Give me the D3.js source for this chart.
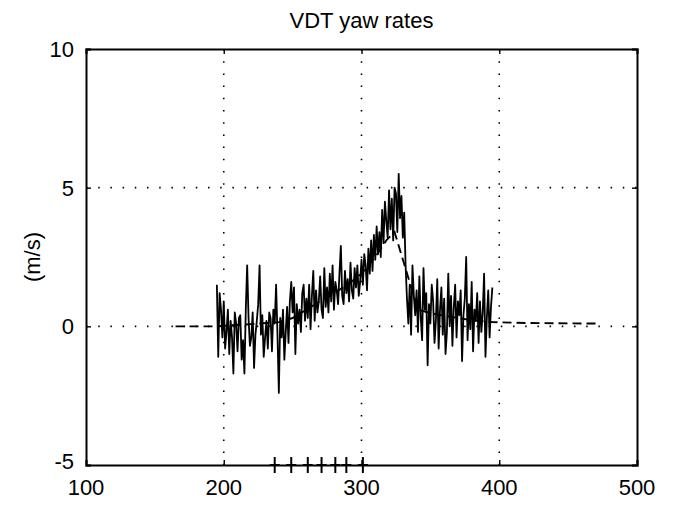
<!DOCTYPE html>
<html>
<head>
<meta charset="utf-8">
<script src="https://cdn.jsdelivr.net/npm/d3@7"></script>
<style>
  body { margin: 0; background: #fff; }
  text { font-family: "Liberation Sans", Arial, Helvetica, sans-serif; fill: #000; }
</style>
</head>
<body>
<svg id="chart" width="677" height="508"></svg>
<script>
// Axis ticks
const xTicks = [100, 200, 300, 400, 500];
const yTicks = [-5, 0, 5, 10];

// Measured yaw rate, one sample per unit starting at x = 195
const rateStart = 195;
const yawRate = [
  1.5, -1.1, 1.2, 0.6, -0.4, 0.9, -0.8, -0.2, 0.6, -1.0,
  0.2, -0.4, -1.7, 0.5, 0.1, -0.9, 0.3, 0.4, -1.2, -0.5,
  -1.7, 0.6, 2.2, 0.3, -0.7, -0.4, 0.5, -1.5, -0.3, 0.2,
  0.8, 2.2, -0.3, 0.4, -1.1, -0.4, 0.2, -0.8, 0.5, 0.3,
  -0.9, 0.6, 0.1, 1.5, -0.3, -2.4, 0.3, -0.4, 0.6, -1.2,
  -0.2, 0.7, -0.6, 0.9, 1.6, 0.5, 1.4, -1.0, 0.8, 0.1,
  0.6, -0.2, 1.2, 1.5, 0.2, 1.0, 0.3, 1.5, -0.1, 1.1,
  2.0, 0.2, 1.3, 0.5, 0.9, 1.8, 0.6, 0.3, 2.1, 0.7,
  1.4, 0.5, 1.9, 0.9, 2.2, 0.6, 1.6, 1.3, 0.8, 1.9,
  2.9, 1.1, 0.8, 2.0, 1.2, 1.7, 0.9, 2.3, 1.3, 1.0,
  2.1, 1.4, 2.2, 1.1, 1.6, 2.4, 1.5, 2.6, 2.2, 1.3,
  2.8, 1.9, 3.1, 2.0, 3.3, 2.4, 3.6, 2.6, 3.4, 2.5,
  4.2, 3.0, 4.5, 3.8, 3.2, 4.9, 3.5, 4.6, 3.1, 5.0,
  4.8, 3.4, 5.5, 3.9, 4.7, 3.2, 4.1, 2.2, 1.0, 0.1,
  1.5, -0.3, 2.2, 1.1, 0.4, 1.3, -0.2, 1.8, 0.3, -0.5,
  2.1, 0.6, 1.2, -1.4, 0.8, 0.1, 1.5, 0.9, -0.6, 0.2,
  1.7, -0.8, 0.6, 1.4, -0.3, 1.0, -1.0, -0.2, 1.9, 0.0,
  1.1, -0.7, 0.7, 1.5, -0.4, 0.9, 0.4, 1.3, -1.25, 0.4,
  1.0, 2.5, -0.5, 0.8, -0.1, 1.6, -0.9, 0.6, 0.2, 1.2,
  -0.6, 0.9, -0.2, 0.5, 1.9, -1.1, 0.3, 1.3, -0.4, 0.7,
  1.4
];

// Smoothed estimate (dashed)
const trendX = [165, 195, 200, 220, 240, 250, 260, 270, 280, 290, 300, 310, 318, 324, 334, 341, 350, 360, 380, 395, 420, 470];
const trendY = [0, 0, 0.02, 0.08, 0.15, 0.3, 0.6, 0.9, 1.2, 1.5, 1.9, 2.5, 3.1, 3.4, 1.75, 0.6, 0.48, 0.38, 0.22, 0.15, 0.12, 0.1];

// Event markers along the bottom axis
const markerX = [237, 249, 261, 271, 281, 289, 301];
const markerY = -5;

const svg = d3.select("#chart");
const margin = { left: 86, right: 40, top: 49, bottom: 43 };
const W = 677, H = 508;

const x = d3.scaleLinear().domain([100, 500]).range([margin.left, W - margin.right]);
const y = d3.scaleLinear().domain([-5, 10]).range([H - margin.bottom, margin.top]);

// Dotted grid
const grid = svg.append("g").attr("stroke", "#000").attr("stroke-width", 1.6)
  .attr("stroke-dasharray", "1.5,10.7").attr("fill", "none");
xTicks.slice(1, -1).forEach(v => {
  grid.append("line").attr("x1", x(v)).attr("x2", x(v)).attr("y1", y(10)).attr("y2", y(-5));
});
yTicks.slice(1, -1).forEach(v => {
  grid.append("line").attr("x1", x(100)).attr("x2", x(500)).attr("y1", y(v)).attr("y2", y(v));
});

// Dashed smoothed line
const trendLine = d3.line().x(d => x(d[0])).y(d => y(d[1]));
svg.append("path")
  .datum(trendX.map((v, i) => [v, trendY[i]]))
  .attr("d", trendLine)
  .attr("fill", "none").attr("stroke", "#000").attr("stroke-width", 1.9)
  .attr("stroke-dasharray", "9,5");

// Measured yaw rate
const rateLine = d3.line().x((d, i) => x(rateStart + i)).y(d => y(d));
svg.append("path")
  .datum(yawRate)
  .attr("d", rateLine)
  .attr("fill", "none").attr("stroke", "#000").attr("stroke-width", 1.8)
  .attr("stroke-linejoin", "round");

// Axes box
const axB = svg.append("g")
  .attr("transform", `translate(0,${y(-5)})`)
  .call(d3.axisBottom(x).tickValues(xTicks).tickSize(-5).tickFormat(""));
const axL = svg.append("g")
  .attr("transform", `translate(${x(100)},0)`)
  .call(d3.axisLeft(y).tickValues(yTicks).tickSize(-5).tickFormat(""));
const axT = svg.append("g")
  .attr("transform", `translate(0,${y(10)})`)
  .call(d3.axisTop(x).tickValues(xTicks).tickSize(-5).tickFormat(""));
const axR = svg.append("g")
  .attr("transform", `translate(${x(500)},0)`)
  .call(d3.axisRight(y).tickValues(yTicks).tickSize(-5).tickFormat(""));
[axB, axL, axT, axR].forEach(g => {
  g.select(".domain").attr("stroke", "#000").attr("stroke-width", 2);
  g.selectAll(".tick line").attr("stroke", "#000").attr("stroke-width", 1.4);
});

// Tick labels
svg.append("g").selectAll("text").data(xTicks).join("text")
  .attr("x", d => x(d)).attr("y", y(-5) + 30)
  .attr("text-anchor", "middle").attr("font-size", 22)
  .text(d => d);
svg.append("g").selectAll("text").data(yTicks).join("text")
  .attr("x", x(100) - 12).attr("y", d => y(d) + (d === -5 ? 4 : 8))
  .attr("text-anchor", "end").attr("font-size", 22)
  .text(d => d);

// Event markers
svg.append("g").selectAll("path").data(markerX).join("path")
  .attr("transform", d => `translate(${x(d)},${y(markerY)})`)
  .attr("d", "M0,-8V8M-5,0H5")
  .attr("stroke", "#000").attr("stroke-width", 2).attr("fill", "none");

// Title and y label
svg.append("text")
  .attr("x", (x(100) + x(500)) / 2).attr("y", 28)
  .attr("text-anchor", "middle").attr("font-size", 22)
  .text("VDT yaw rates");
svg.append("text")
  .attr("transform", `translate(40,${(y(10) + y(-5)) / 2}) rotate(-90)`)
  .attr("text-anchor", "middle").attr("font-size", 22)
  .text("(m/s)");
</script>
</body>
</html>
